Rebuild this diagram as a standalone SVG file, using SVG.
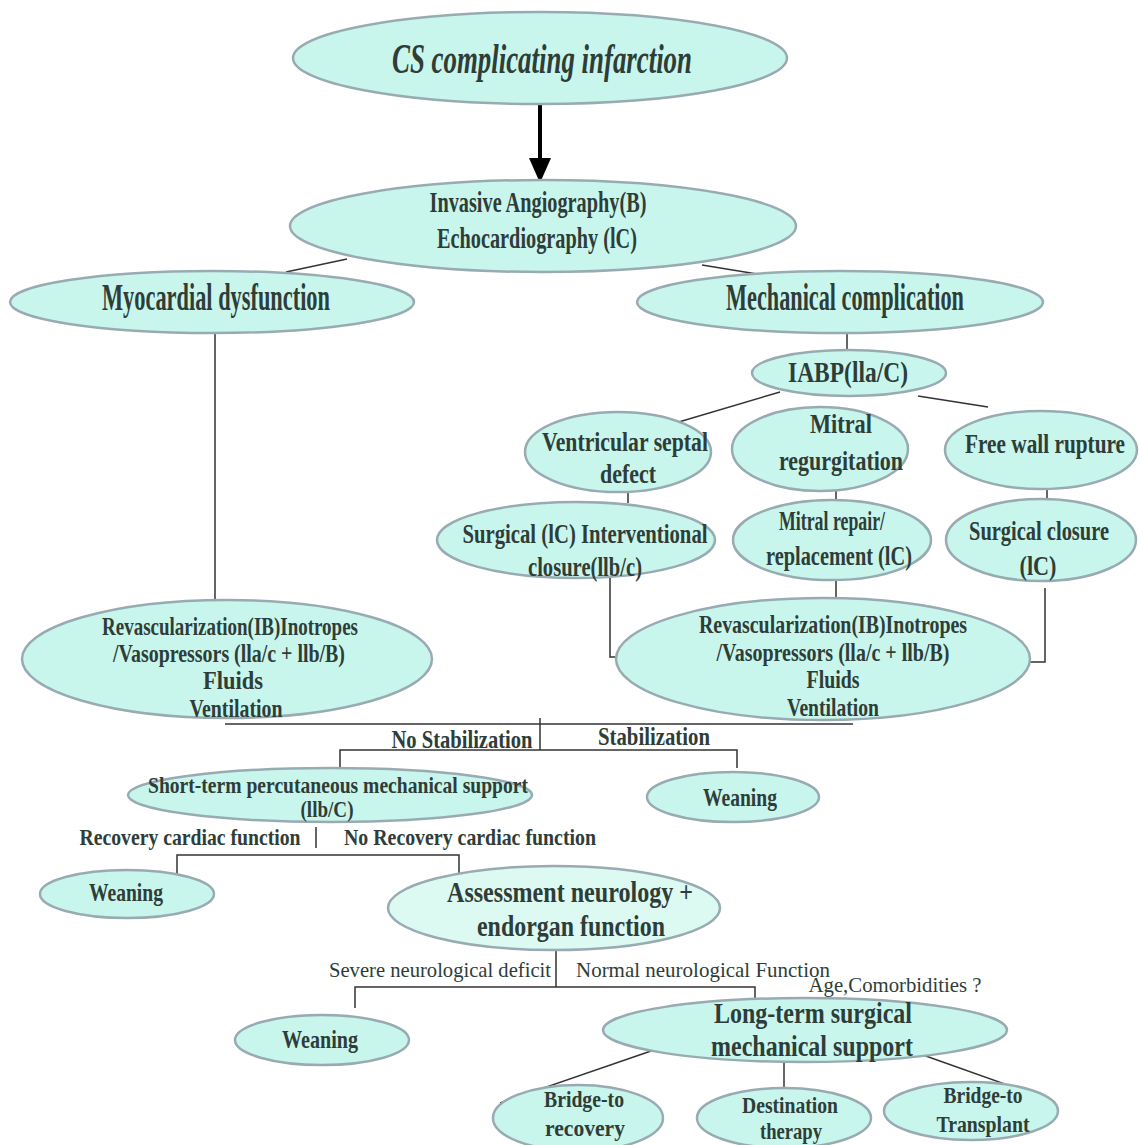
<svg xmlns="http://www.w3.org/2000/svg" width="1139" height="1145" viewBox="0 0 1139 1145">
<style>
.n{fill:#c9f6ec;stroke:#98abb2;stroke-width:2.5}
.t{font-family:"Liberation Serif",serif;font-weight:bold;fill:#2e3d38;text-anchor:middle}
.r{font-weight:normal}
.c{stroke:#333;stroke-width:1.5;fill:none}
</style>
<rect width="1139" height="1145" fill="#fff"/>
<g id="connectors">
<line x1="540" y1="105" x2="540" y2="160" stroke="#000" stroke-width="4"/>
<path d="M529,158 L551,158 L540,183 z" fill="#000"/>
<line class="c" x1="286" y1="272" x2="347" y2="259"/>
<line class="c" x1="702" y1="265" x2="757" y2="274"/>
<line class="c" x1="847" y1="333" x2="847" y2="351"/>
<line class="c" x1="780" y1="392" x2="672" y2="424"/>
<line class="c" x1="918" y1="396" x2="988" y2="407"/>
<line class="c" x1="628" y1="488" x2="628" y2="503"/>
<line class="c" x1="836" y1="489" x2="836" y2="501"/>
<line class="c" x1="1047" y1="484" x2="1047" y2="501"/>
<line class="c" x1="836" y1="580" x2="836" y2="599"/>
<polyline class="c" points="610,578 610,657 627,657"/>
<polyline class="c" points="1045,588 1045,662 1030,662"/>
<line class="c" x1="215" y1="333" x2="215" y2="600"/>
<line class="c" x1="225" y1="724" x2="853" y2="724"/>
<line class="c" x1="540" y1="718" x2="540" y2="750"/>
<polyline class="c" points="340,768 340,750 737,750 737,768"/>
<line class="c" x1="316" y1="827" x2="316" y2="848"/>
<polyline class="c" points="177,877 177,855 459,855 459,882"/>
<line class="c" x1="556" y1="950" x2="556" y2="987"/>
<polyline class="c" points="355,1008 355,987 755,987 755,999"/>
<line class="c" x1="651" y1="1051" x2="500" y2="1103"/>
<line class="c" x1="784" y1="1062" x2="784" y2="1087"/>
<line class="c" x1="923" y1="1055" x2="1055" y2="1102"/>
</g>
<g id="n-title"><ellipse class="n" cx="540" cy="58" rx="247" ry="46"/>
<text class="t" x="542" y="73" font-size="42" font-style="italic" textLength="300" lengthAdjust="spacingAndGlyphs">CS complicating infarction</text></g>
<g id="n-invasive"><ellipse class="n" cx="543" cy="226" rx="253" ry="46"/>
<text class="t" x="538" y="212" font-size="29" textLength="217" lengthAdjust="spacingAndGlyphs">Invasive Angiography(B)</text>
<text class="t" x="537" y="248" font-size="29" textLength="200" lengthAdjust="spacingAndGlyphs">Echocardiography (lC)</text></g>
<g id="n-myo"><ellipse class="n" cx="212" cy="302" rx="202" ry="31"/>
<text class="t" x="216" y="310" font-size="37" textLength="228" lengthAdjust="spacingAndGlyphs">Myocardial dysfunction</text></g>
<g id="n-mech"><ellipse class="n" cx="840" cy="302" rx="203" ry="31"/>
<text class="t" x="845" y="310" font-size="37" textLength="238" lengthAdjust="spacingAndGlyphs">Mechanical complication</text></g>
<g id="n-iabp"><ellipse class="n" cx="849" cy="373" rx="97" ry="23"/>
<text class="t" x="848" y="382" font-size="30" textLength="120" lengthAdjust="spacingAndGlyphs">IABP(lla/C)</text></g>
<g id="n-vsd"><ellipse class="n" cx="618" cy="452" rx="93" ry="40"/>
<text class="t" x="625" y="451" font-size="28" textLength="166" lengthAdjust="spacingAndGlyphs">Ventricular septal</text>
<text class="t" x="628" y="483" font-size="28" textLength="56" lengthAdjust="spacingAndGlyphs">defect</text></g>
<g id="n-mr"><ellipse class="n" cx="820" cy="449" rx="88" ry="42"/>
<text class="t" x="841" y="433" font-size="28" textLength="62" lengthAdjust="spacingAndGlyphs">Mitral</text>
<text class="t" x="841" y="470" font-size="28" textLength="124" lengthAdjust="spacingAndGlyphs">regurgitation</text></g>
<g id="n-fwr"><ellipse class="n" cx="1041" cy="450" rx="96" ry="39"/>
<text class="t" x="1045" y="453" font-size="28" textLength="160" lengthAdjust="spacingAndGlyphs">Free wall rupture</text></g>
<g id="n-si"><ellipse class="n" cx="576" cy="540" rx="139" ry="38"/>
<text class="t" x="585" y="543" font-size="27" textLength="245" lengthAdjust="spacingAndGlyphs">Surgical (lC) Interventional</text>
<text class="t" x="585" y="576" font-size="27" textLength="114" lengthAdjust="spacingAndGlyphs">closure(llb/c)</text></g>
<g id="n-mrr"><ellipse class="n" cx="832" cy="540" rx="99" ry="40"/>
<text class="t" x="832" y="530" font-size="27" textLength="106" lengthAdjust="spacingAndGlyphs">Mitral repair/</text>
<text class="t" x="839" y="565" font-size="27" textLength="146" lengthAdjust="spacingAndGlyphs">replacement (lC)</text></g>
<g id="n-sc"><ellipse class="n" cx="1041" cy="540" rx="95" ry="41"/>
<text class="t" x="1039" y="540" font-size="27" textLength="140" lengthAdjust="spacingAndGlyphs">Surgical closure</text>
<text class="t" x="1038" y="575" font-size="27" textLength="37" lengthAdjust="spacingAndGlyphs">(lC)</text></g>
<g id="n-rev-r"><ellipse class="n" cx="823" cy="659" rx="207" ry="61"/>
<text class="t" x="833" y="633" font-size="26" textLength="268" lengthAdjust="spacingAndGlyphs">Revascularization(IB)Inotropes</text>
<text class="t" x="833" y="661" font-size="26" textLength="233" lengthAdjust="spacingAndGlyphs">/Vasopressors (lla/c + llb/B)</text>
<text class="t" x="833" y="688" font-size="26" textLength="53" lengthAdjust="spacingAndGlyphs">Fluids</text>
<text class="t" x="833" y="716" font-size="26" textLength="92" lengthAdjust="spacingAndGlyphs">Ventilation</text></g>
<g id="n-rev-l"><ellipse class="n" cx="227" cy="659" rx="205" ry="59"/>
<text class="t" x="230" y="635" font-size="26" textLength="256" lengthAdjust="spacingAndGlyphs">Revascularization(IB)Inotropes</text>
<text class="t" x="229" y="662" font-size="26" textLength="232" lengthAdjust="spacingAndGlyphs">/Vasopressors (lla/c + llb/B)</text>
<text class="t" x="233" y="689" font-size="26" textLength="60" lengthAdjust="spacingAndGlyphs">Fluids</text>
<text class="t" x="236" y="717" font-size="26" textLength="93" lengthAdjust="spacingAndGlyphs">Ventilation</text></g>
<g id="labels1">
<text class="t" x="462" y="748" font-size="25" textLength="141" lengthAdjust="spacingAndGlyphs">No Stabilization</text>
<text class="t" x="654" y="745" font-size="25" textLength="112" lengthAdjust="spacingAndGlyphs">Stabilization</text></g>
<g id="n-short"><ellipse class="n" cx="330" cy="795" rx="202" ry="27"/>
<text class="t" x="338" y="793" font-size="23" textLength="380" lengthAdjust="spacingAndGlyphs">Short-term percutaneous mechanical support</text>
<text class="t" x="327" y="817" font-size="23" textLength="53" lengthAdjust="spacingAndGlyphs">(llb/C)</text></g>
<g id="n-wean1"><ellipse class="n" cx="733" cy="797" rx="86" ry="25"/>
<text class="t" x="740" y="806" font-size="25" textLength="74" lengthAdjust="spacingAndGlyphs">Weaning</text></g>
<g id="labels2">
<text class="t" x="190" y="845" font-size="23" textLength="221" lengthAdjust="spacingAndGlyphs">Recovery cardiac function</text>
<text class="t" x="470" y="845" font-size="23" textLength="252" lengthAdjust="spacingAndGlyphs">No Recovery cardiac function</text></g>
<g id="n-wean2"><ellipse class="n" cx="127" cy="894" rx="87" ry="24"/>
<text class="t" x="126" y="901" font-size="25" textLength="74" lengthAdjust="spacingAndGlyphs">Weaning</text></g>
<g id="n-assess"><ellipse class="n" cx="554" cy="908" rx="166" ry="42" style="fill:#dcf9f2"/>
<text class="t" x="570" y="902" font-size="30" textLength="246" lengthAdjust="spacingAndGlyphs">Assessment neurology +</text>
<text class="t" x="571" y="936" font-size="30" textLength="188" lengthAdjust="spacingAndGlyphs">endorgan function</text></g>
<g id="labels3">
<text class="t r" x="440" y="977" font-size="22" textLength="222" lengthAdjust="spacingAndGlyphs">Severe neurological deficit</text>
<text class="t r" x="703" y="977" font-size="22" textLength="254" lengthAdjust="spacingAndGlyphs">Normal neurological Function</text>
<text class="t r" x="895" y="992" font-size="22" textLength="173" lengthAdjust="spacingAndGlyphs">Age,Comorbidities ?</text></g>
<g id="n-wean3"><ellipse class="n" cx="322" cy="1040" rx="87" ry="25"/>
<text class="t" x="320" y="1048" font-size="25" textLength="76" lengthAdjust="spacingAndGlyphs">Weaning</text></g>
<g id="n-long"><ellipse class="n" cx="805" cy="1030" rx="202" ry="32"/>
<text class="t" x="813" y="1023" font-size="29" textLength="198" lengthAdjust="spacingAndGlyphs">Long-term surgical</text>
<text class="t" x="812" y="1056" font-size="29" textLength="202" lengthAdjust="spacingAndGlyphs">mechanical support</text></g>
<g id="n-btr"><ellipse class="n" cx="578" cy="1118" rx="85" ry="33"/>
<text class="t" x="584" y="1107" font-size="24" textLength="80" lengthAdjust="spacingAndGlyphs">Bridge-to</text>
<text class="t" x="585" y="1136" font-size="24" textLength="80" lengthAdjust="spacingAndGlyphs">recovery</text></g>
<g id="n-dest"><ellipse class="n" cx="784" cy="1118" rx="87" ry="30"/>
<text class="t" x="790" y="1113" font-size="24" textLength="96" lengthAdjust="spacingAndGlyphs">Destination</text>
<text class="t" x="791" y="1139" font-size="24" textLength="62" lengthAdjust="spacingAndGlyphs">therapy</text></g>
<g id="n-btt"><ellipse class="n" cx="971" cy="1111" rx="87" ry="29"/>
<text class="t" x="983" y="1103" font-size="24" textLength="79" lengthAdjust="spacingAndGlyphs">Bridge-to</text>
<text class="t" x="983" y="1132" font-size="24" textLength="93" lengthAdjust="spacingAndGlyphs">Transplant</text></g>
</svg>
